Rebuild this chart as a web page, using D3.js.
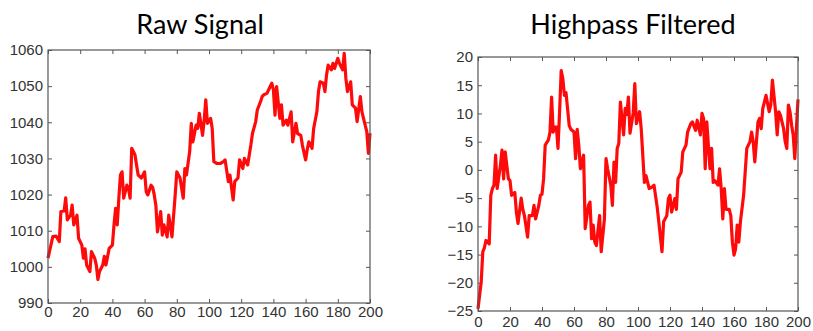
<!DOCTYPE html>
<html>
<head>
<meta charset="utf-8">
<script src="https://cdn.jsdelivr.net/npm/d3@7"></script>
<style>
  body { margin: 0; background: #fff; }
  .title { font-family: Lato, "Open Sans", sans-serif; font-size: 27px; fill: #000; }
  .axis text { font-family: "Liberation Sans", Arial, sans-serif; font-size: 15px; fill: #333; }
  .axis line { stroke: #555; }
</style>
</head>
<body>
<svg id="chart" width="813" height="331"></svg>
<script>
// raw signal (sample index, value)
var rawT = [0,3,5,7,8,10,11,12,14,15,16,18,19,21,22,23,24,26,27,29,30,31,32,34,35,36,38,40,41,42,43,44,45,46,47,49,50,51,52,54,55,56,58,60,61,62,64,65,66,67,68,70,71,72,74,75,77,79,80,82,84,85,86,88,89,90,92,93,94,96,97,98,99,101,102,103,105,107,109,110,112,113,115,116,118,119,121,122,124,126,127,129,130,132,133,134,136,138,139,140,141,142,144,145,146,148,149,151,152,154,155,157,158,160,161,162,164,165,167,168,169,171,172,173,174,176,177,178,180,181,183,184,185,186,188,189,191,192,194,195,197,198,199,200];
var rawV = [1002.4,1008.4,1008.5,1007,1015.3,1015.5,1019.1,1013,1014.3,1017.1,1011.6,1014.3,1007.9,1006,1002.4,1005,1000.5,998.7,1004.2,1002.4,1000.5,996.5,998.7,1000.5,1002.9,1000.5,1005.1,1006,1011.6,1016.2,1011.6,1019,1025.4,1026.3,1019,1022.6,1021.7,1019,1032.8,1031,1028.2,1025.4,1024.6,1026.3,1020.8,1019.9,1022.6,1022,1019.9,1017,1009.7,1015.3,1008.8,1011.6,1008.3,1014.3,1008.3,1019.9,1026.3,1024.6,1019,1027.2,1025.4,1031.9,1039.7,1034.6,1039.2,1038.3,1042.5,1036.4,1040.6,1046.2,1039.7,1041.1,1038.3,1029.1,1028.6,1028.6,1029.1,1029.6,1023.6,1025.4,1018.5,1023.6,1024.6,1029.6,1027.2,1030,1028.2,1033.7,1036.9,1040.2,1043.4,1045.7,1047.1,1047.6,1048,1049.9,1050.8,1049,1042,1049.9,1041.1,1044.8,1039.2,1040.6,1039.2,1042.9,1034.6,1039.7,1036.9,1036.4,1033.7,1029.6,1032.4,1034.6,1032.8,1038.3,1042.9,1048.5,1051.2,1050.8,1048.5,1053.1,1055.8,1054.5,1056.3,1054.9,1057.7,1056.3,1054.5,1059.1,1052.2,1048.5,1051.2,1044.8,1043.9,1040.2,1047.1,1042.9,1039.2,1037.4,1031.4,1037];

// highpass filtered
var hpT = [0,1,2,3,4,5,7,8,9,10,11,12,14,15,16,17,19,20,21,23,24,25,27,28,29,31,32,34,35,36,38,39,40,41,42,44,45,46,47,48,49,50,51,52,53,54,55,57,58,60,61,62,63,64,65,66,67,69,70,71,72,73,74,76,77,79,80,81,83,84,85,86,87,88,89,91,92,93,94,95,97,98,99,101,102,104,105,107,109,110,112,113,115,116,118,119,120,121,123,124,125,127,128,130,131,133,134,136,137,139,140,141,142,143,145,146,147,148,150,151,152,153,154,155,157,158,159,160,161,162,163,164,166,167,168,170,171,172,173,175,176,177,178,179,180,182,183,184,186,187,188,189,191,192,193,194,195,196,197,198,199,200];
var hpV = [-24.6,-22.2,-19.9,-14.5,-13.8,-12.5,-13.1,-4.5,-3.3,-2.7,2.6,-3.3,0.8,3.5,-1.6,3.2,-1.6,-1.9,-4.5,-4,-7.5,-9.5,-5,-7,-8.1,-11.9,-8.1,-8.1,-6.3,-8.7,-6.3,-4.5,-4.3,-1.6,4.4,5.3,6.7,12.9,6.7,7.6,7.6,3.8,10.3,17.6,16.2,13.2,13.7,7.9,7.2,6.7,2,7.2,4.4,0.2,1.4,2.6,-10.4,-6.3,-5.7,-12.2,-9.8,-12.8,-13.4,-8.1,-14.5,-8.7,2,0.2,-2.7,-6.3,1.4,-2.2,3.8,4.7,12,6.2,10.9,9.8,12.9,6.5,10.1,15.3,8.2,10.3,7.3,-2.2,-1,-3.3,-3,-2.7,-6.6,-9.2,-14.5,-9.2,-8.1,-5.1,-4.5,-7.5,-5.1,-7,-1.6,-0.4,3.2,4.4,6.7,8.2,8.5,7,8.8,6.2,10,9.1,0.2,8.5,0.2,3.8,-2.2,-1.9,-2.7,0.2,-3.3,-8.7,-3.3,-7,-7,-8.1,-12.8,-15.1,-14,-9.8,-12.8,-9.2,-4.5,-0.4,3.8,5,6.7,5,1.4,8.5,9.1,7.3,10.9,12,13.2,10.3,11.5,15.9,10.3,6.2,10.3,9.7,7.3,5,3.8,11.5,10.3,7.9,6.2,2,7.3,12.5];

var xTicks = [0,20,40,60,80,100,120,140,160,180,200];
var rawTicks = [990,1000,1010,1020,1030,1040,1050,1060];
var hpTicks = [-25,-20,-15,-10,-5,0,5,10,15,20];

var svg = d3.select("#chart");
var fmt = d3.format("d");

function drawPanel(o) {
    var x = d3.scaleLinear().domain([0, 200]).range([o.left, o.right]);
    var y = d3.scaleLinear().domain(o.yDomain).range([o.bottom, o.top]);
    var g = svg.append("g");

    g.append("text")
        .attr("class", "title")
        .attr("x", o.titleX)
        .attr("y", 34)
        .attr("text-anchor", "middle")
        .text(o.title);

    // inward ticks on all four sides
    g.append("g").attr("class", "axis")
        .attr("transform", "translate(0," + o.bottom + ")")
        .call(d3.axisBottom(x).tickValues(xTicks).tickSize(-4).tickPadding(o.xPad).tickFormat(fmt));
    g.append("g").attr("class", "axis")
        .attr("transform", "translate(0," + o.top + ")")
        .call(d3.axisTop(x).tickValues(xTicks).tickSize(-4).tickFormat(""));
    g.append("g").attr("class", "axis")
        .attr("transform", "translate(" + o.left + ",0)")
        .call(d3.axisLeft(y).tickValues(o.yTicks).tickSize(-4).tickPadding(5).tickFormat(fmt));
    g.append("g").attr("class", "axis")
        .attr("transform", "translate(" + o.right + ",0)")
        .call(d3.axisRight(y).tickValues(o.yTicks).tickSize(-4).tickFormat(""));
    g.selectAll(".axis .domain").remove();

    var line = d3.line()
        .x(function (d, i) { return x(o.t[i]); })
        .y(function (d) { return y(d); });

    g.append("path")
        .datum(o.v)
        .attr("fill", "none")
        .attr("stroke", "#ff0a0a")
        .attr("stroke-width", 3.2)
        .attr("stroke-linejoin", "round")
        .attr("d", line);

    g.append("rect")
        .attr("x", o.left)
        .attr("y", o.top)
        .attr("width", o.right - o.left)
        .attr("height", o.bottom - o.top)
        .attr("fill", "none")
        .attr("stroke", "#555")
        .attr("stroke-width", 1.2);
}

drawPanel({ title: "Raw Signal", titleX: 200, t: rawT, v: rawV,
    yDomain: [990, 1060], yTicks: rawTicks,
    left: 48, right: 370, top: 50, bottom: 303, xPad: 3.5 });

drawPanel({ title: "Highpass Filtered", titleX: 633, t: hpT, v: hpV,
    yDomain: [-25, 20], yTicks: hpTicks,
    left: 478, right: 798, top: 57, bottom: 311, xPad: 5 });
</script>
</body>
</html>
